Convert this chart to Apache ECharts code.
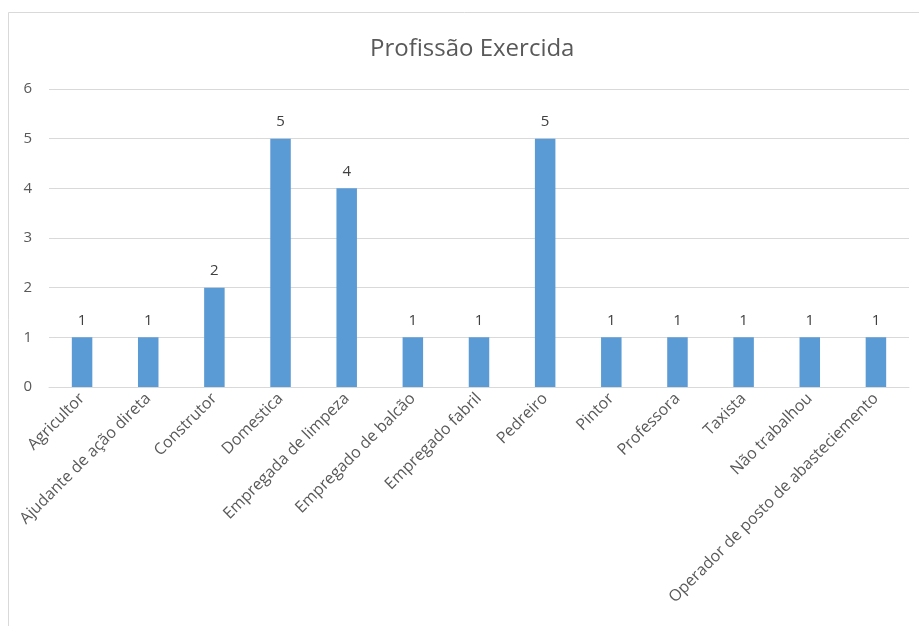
<!DOCTYPE html>
<html>
<head>
<meta charset="utf-8">
<script src="https://cdn.jsdelivr.net/npm/echarts@6/dist/echarts.min.js"></script>
<style>
    html, body { margin: 0; padding: 0; background: #fff; }
    #chart { width: 919px; height: 626px; }
</style>
</head>
<body>
<div id="chart"></div>
<script>
// Profissão Exercida
let categorias = ['Agricultor', 'Ajudante de ação direta', 'Construtor', 'Domestica', 'Empregada de limpeza',
    'Empregado de balcão', 'Empregado fabril', 'Pedreiro', 'Pintor', 'Professora', 'Taxista',
    'Não trabalhou', 'Operador de posto de abasteciemento'];
let valores = [1, 1, 2, 5, 4, 1, 1, 5, 1, 1, 1, 1, 1];
let ticksY = [0, 1, 2, 3, 4, 5, 6];

let myChart = echarts.init(document.getElementById('chart'));
let fonte = '"Open Sans", "Noto Sans", sans-serif';
let option = {
    animation: false,
    backgroundColor: '#fff',
    textStyle: { fontFamily: fonte },
    graphic: [{
        type: 'rect',
        shape: { x: 8.5, y: 12.5, width: 940, height: 640 },
        style: { fill: 'none', stroke: '#d9d9d9', lineWidth: 1 },
        silent: true
    }],
    title: {
        text: 'Profissão Exercida',
        left: 365,
        top: 32,
        textStyle: { color: '#595959', fontSize: 24, fontWeight: 'normal', fontFamily: fonte }
    },
    grid: { left: 49, right: 10, top: 89, bottom: 239, containLabel: false },
    xAxis: {
        type: 'category',
        data: categorias,
        axisLine: { show: true, lineStyle: { color: '#d9d9d9' } },
        axisTick: { show: false },
        axisLabel: {
            interval: 0,
            rotate: 45,
            margin: 9,
            color: '#595959',
            fontSize: 16,
            fontFamily: fonte
        }
    },
    yAxis: {
        type: 'value',
        min: ticksY[0],
        max: ticksY[ticksY.length - 1],
        interval: 1,
        axisLine: { show: false },
        axisTick: { show: false },
        splitLine: { lineStyle: { color: '#d9d9d9' } },
        axisLabel: { color: '#595959', fontSize: 15, margin: 17, fontFamily: fonte }
    },
    series: [{
        type: 'bar',
        data: valores,
        barWidth: '31%',
        itemStyle: { color: '#5b9bd5' },
        label: {
            show: true,
            position: 'top',
            distance: 9,
            color: '#404040',
            fontSize: 15,
            fontFamily: fonte
        }
    }]
};
myChart.setOption(option);
</script>
</body>
</html>
